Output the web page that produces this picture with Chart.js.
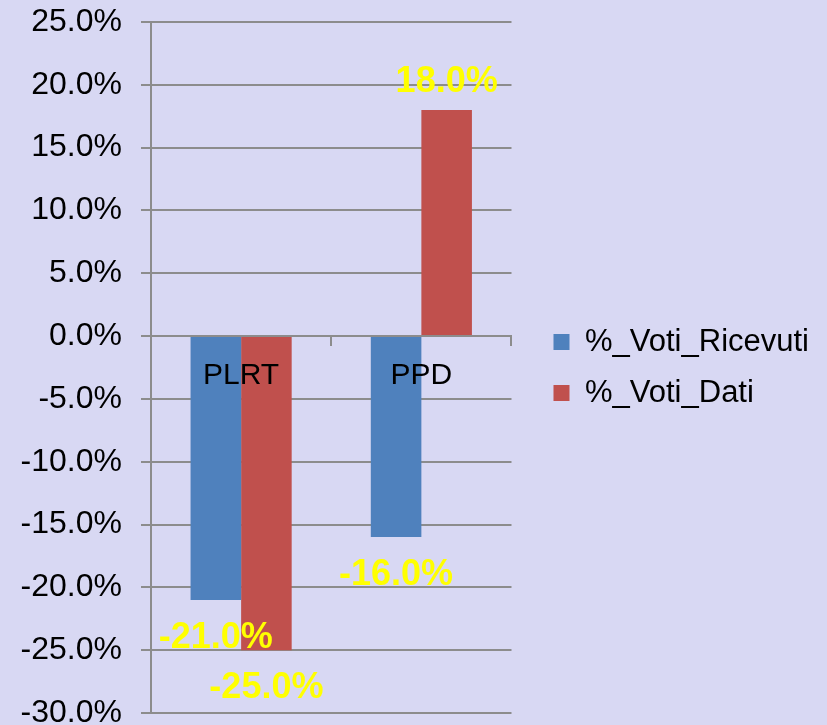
<!DOCTYPE html>
<html>
<head>
<meta charset="utf-8">
<script src="https://cdn.jsdelivr.net/npm/chart.js@4.4.1/dist/chart.umd.min.js"></script>
<style>
  html, body { margin: 0; padding: 0; background: #d8d8f3; overflow: hidden; }
  #wrap { width: 827px; height: 725px; overflow: hidden; }
</style>
</head>
<body>
<div id="wrap"><canvas id="chart" width="827" height="735"></canvas></div>
<script>
const categories = ['PLRT', 'PPD'];
const votiRicevuti = [-21.0, -16.0];
const votiDati = [-25.0, 18.0];
const yMin = -30, yMax = 25, yStep = 5;

const FONT = '"Liberation Sans", Arial, sans-serif';
const GRID = '#8c8c8c';

// yellow value labels just past the end of each bar
const valueLabels = {
    id: 'valueLabels',
    afterDatasetsDraw(chart) {
        const ctx = chart.ctx;
        ctx.save();
        ctx.font = 'bold 36px ' + FONT;
        ctx.fillStyle = '#ffff00';
        ctx.textAlign = 'center';
        ctx.textBaseline = 'alphabetic';
        chart.data.datasets.forEach((ds, i) => {
            chart.getDatasetMeta(i).data.forEach((bar, j) => {
                const v = ds.data[j];
                const y = v >= 0 ? bar.y - 18 : bar.y + 48;
                ctx.fillText(v.toFixed(1) + '%', bar.x, y);
            });
        });
        ctx.restore();
    }
};

new Chart(document.getElementById('chart'), {
    type: 'bar',
    data: {
        labels: categories,
        datasets: [
            { label: '%_Voti_Ricevuti', data: votiRicevuti, backgroundColor: '#4f81bd' },
            { label: '%_Voti_Dati', data: votiDati, backgroundColor: '#c0504d' }
        ]
    },
    options: {
        responsive: false,
        animation: false,
        datasets: { bar: { categoryPercentage: 0.561, barPercentage: 1 } },
        layout: { padding: { top: 22, bottom: 22, left: 0, right: 8 } },
        plugins: {
            tooltip: { enabled: false },
            legend: {
                position: 'right',
                maxWidth: 320,
                labels: {
                    boxWidth: 16, boxHeight: 16, padding: 20,
                    color: '#000',
                    font: { family: FONT, size: 31 }
                }
            }
        },
        scales: {
            x: {
                position: { y: 0 },
                grid: { drawOnChartArea: false, drawTicks: true, tickLength: 9, color: GRID, lineWidth: 2, offset: true },
                border: { display: true, color: GRID, width: 2 },
                ticks: { z: 1, color: '#000', padding: 13, font: { family: FONT, size: 30 } }
            },
            y: {
                min: yMin, max: yMax,
                afterFit(scale) {
                    scale.width = 151;
                    scale.paddingTop = 0;
                    scale.paddingBottom = 0;
                },
                grid: { color: GRID, lineWidth: 2, tickLength: 10 },
                border: { display: true, color: GRID, width: 2 },
                ticks: {
                    stepSize: yStep, color: '#000', padding: 19,
                    font: { family: FONT, size: 32 },
                    callback: v => v.toFixed(1) + '%'
                }
            },
            y2: {
                position: 'right',
                afterFit(scale) { scale.width = 22; },
                grid: { display: false },
                border: { display: false },
                ticks: { display: false }
            }
        }
    },
    plugins: [valueLabels]
});
</script>
</body>
</html>
